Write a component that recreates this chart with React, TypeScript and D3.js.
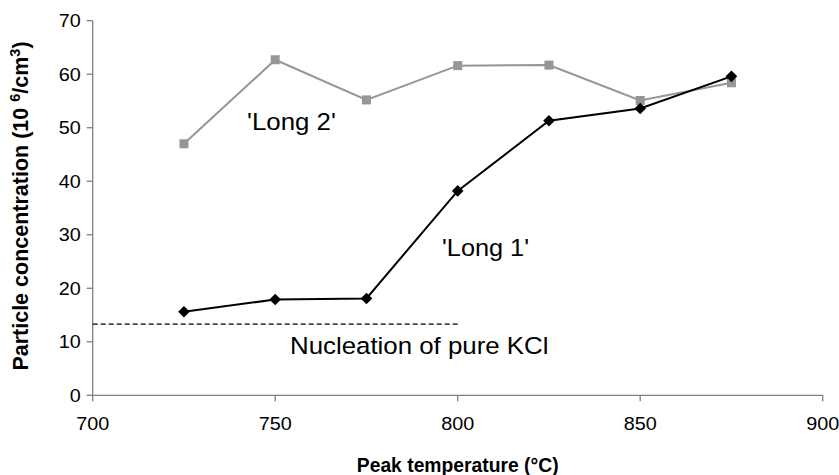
import React from "react";
import * as d3 from "d3";

const temps = [725, 750, 775, 800, 825, 850, 875];
const long1 = [15.6, 17.9, 18.1, 38.2, 51.3, 53.6, 59.6];
const long2 = [47.0, 62.7, 55.2, 61.6, 61.7, 55.1, 58.4];
const xTicks = [700, 750, 800, 850, 900];
const yTicks = [0, 10, 20, 30, 40, 50, 60, 70];
const kclLevel = 13.3;
const kclRange = [700, 800];

const W = 839;
const H = 475;
const M = { left: 92.7, right: 822.7, top: 20.7, bottom: 395.3 };
const FONT = "Arial, 'Liberation Sans', Helvetica, sans-serif";
const SX = 1.1;

function SText(props: {
  x: number;
  y: number;
  size: number;
  anchor?: "start" | "middle" | "end";
  weight?: string;
  dy?: string;
  sx?: number;
  children: React.ReactNode;
}) {
  return (
    <text
      transform={`translate(${props.x},${props.y}) scale(${props.sx ?? SX},1)`}
      textAnchor={props.anchor || "start"}
      fontSize={props.size}
      fontWeight={props.weight || "normal"}
      dy={props.dy}
      fill="#000"
    >
      {props.children}
    </text>
  );
}

export default function App() {
  const x = d3.scaleLinear().domain([700, 900]).range([M.left, M.right]);
  const y = d3.scaleLinear().domain([0, 70]).range([M.bottom, M.top]);
  const line = d3
    .line<number>()
    .x((_, i) => x(temps[i]))
    .y((d) => y(d));
  const dR = 5.8;
  const diamond = `M0,${-dR}L${dR},0L0,${dR}L${-dR},0Z`;
  const axisColor = "#7f7f7f";
  const grey = "#969696";

  return (
    <svg
      width={W}
      height={H}
      style={{ position: "absolute", left: 0, top: 0, background: "#fff" }}
      fontFamily={FONT}
    >
      {/* axes */}
      <line x1={M.left} x2={M.left} y1={M.top} y2={M.bottom} stroke={axisColor} strokeWidth={1.3} />
      <line x1={M.left} x2={M.right} y1={M.bottom} y2={M.bottom} stroke={axisColor} strokeWidth={1.3} />
      {yTicks.map((t) => (
        <g key={"y" + t}>
          <line x1={M.left - 6} x2={M.left} y1={y(t)} y2={y(t)} stroke={axisColor} strokeWidth={1.3} />
          <SText x={M.left - 12} y={y(t)} dy="0.35em" anchor="end" size={18}>
            {t}
          </SText>
        </g>
      ))}
      {xTicks.map((t) => (
        <g key={"x" + t}>
          <line x1={x(t)} x2={x(t)} y1={M.bottom} y2={M.bottom + 6} stroke={axisColor} strokeWidth={1.3} />
          <SText x={x(t)} y={M.bottom + 35} anchor="middle" size={18}>
            {t}
          </SText>
        </g>
      ))}

      {/* KCl nucleation level */}
      <line
        x1={x(kclRange[0])}
        x2={x(kclRange[1])}
        y1={y(kclLevel)}
        y2={y(kclLevel)}
        stroke="#000"
        strokeWidth={1.2}
        strokeDasharray="5,3"
      />

      {/* Long 2 */}
      <path d={line(long2) || ""} fill="none" stroke={grey} strokeWidth={2} />
      {long2.map((v, i) => (
        <rect key={"s" + i} x={x(temps[i]) - 4.5} y={y(v) - 4.5} width={9} height={9} fill={grey} />
      ))}

      {/* Long 1 */}
      <path d={line(long1) || ""} fill="none" stroke="#000" strokeWidth={2} />
      {long1.map((v, i) => (
        <path key={"d" + i} d={diamond} transform={`translate(${x(temps[i])},${y(v)})`} fill="#000" />
      ))}

      {/* annotations */}
      <SText x={247} y={130} size={23.5}>'Long 2'</SText>
      <SText x={442} y={256} size={23}>'Long 1'</SText>
      <SText x={290} y={354} size={23.5}>Nucleation of pure KCl</SText>

      {/* axis titles */}
      <SText x={(M.left + M.right) / 2} y={472} anchor="middle" size={21} weight="bold" sx={0.92}>
        Peak temperature (°C)
      </SText>
      <text
        transform={`translate(28,${(M.top + M.bottom) / 2 - 2}) rotate(-90)`}
        textAnchor="middle"
        fontSize={21.5}
        fontWeight="bold"
        fill="#000"
      >
        Particle concentration (10 <tspan dy="-8" fontSize={14.5}>6</tspan>
        <tspan dy="8">/cm</tspan>
        <tspan dy="-8" fontSize={14.5}>3</tspan>
        <tspan dy="8">)</tspan>
      </text>
    </svg>
  );
}
